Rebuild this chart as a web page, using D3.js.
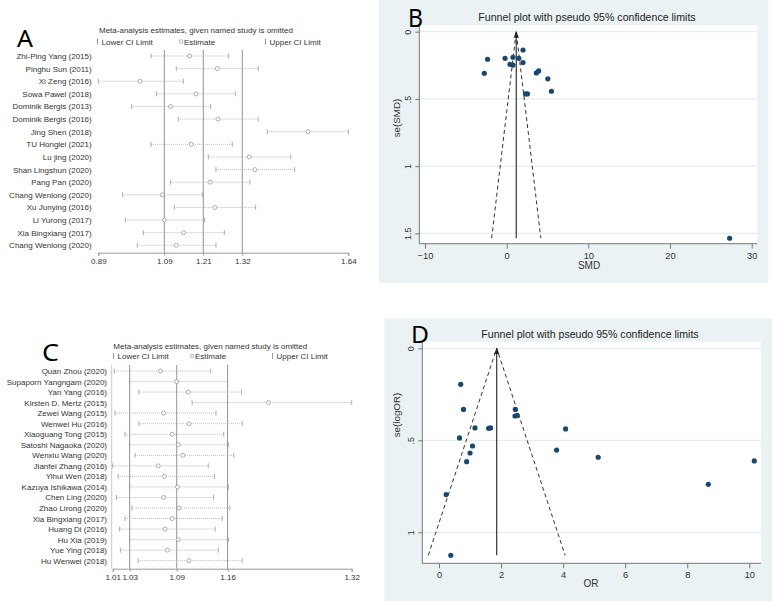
<!DOCTYPE html>
<html><head><meta charset="utf-8">
<script src="https://cdn.jsdelivr.net/npm/d3@7"></script>
<style>
body{margin:0;background:#fff}
svg{display:block}
text{font-family:"Liberation Sans",Arial,sans-serif}
</style>
</head><body>
<svg id="c" width="772" height="601"></svg>
<script>
// ---------- Panel A data (influence analysis) ----------
const studiesA = ["Zhi-Ping Yang (2015)","Pinghu Sun (2011)","Xi Zeng (2016)","Sowa Pawel (2018)","Dominik Bergis (2013)","Dominik Bergis (2016)","Jing Shen (2018)","TU Honglei (2021)","Lu jing (2020)","Shan Lingshun (2020)","Pang Pan (2020)","Chang Wenlong (2020)","Xu Junying (2016)","Li Yurong (2017)","Xia Bingxiang (2017)","Chang Wenlong (2020)"];
const lowerA = [1.048,1.124,0.890,1.065,0.990,1.130,1.397,1.048,1.220,1.243,1.107,0.963,1.118,0.971,1.025,1.007];
const estA   = [1.164,1.247,1.015,1.183,1.107,1.249,1.519,1.169,1.343,1.360,1.225,1.082,1.240,1.088,1.146,1.124];
const upperA = [1.281,1.370,1.145,1.301,1.227,1.370,1.640,1.292,1.467,1.479,1.345,1.202,1.362,1.209,1.268,1.243];
const refA = [1.088,1.205,1.322];
const tickValsA = [0.89,1.088,1.205,1.322,1.64];
const tickLabelsA = ["0.89","1.09","1.21","1.32","1.64"];

// ---------- Panel C data ----------
const studiesC = ["Quan Zhou (2020)","Supaporn Yangngam (2020)","Yan Yang (2016)","Kirsten D. Mertz (2015)","Zewei Wang (2015)","Wenwei Hu (2016)","Xiaoguang Tong (2015)","Satoshi Nagaoka (2020)","Wenxiu Wang (2020)","Jianfei Zhang (2016)","Yihui Wen (2018)","Kazuya Ishikawa (2014)","Chen Ling (2020)","Zhao Lirong (2020)","Xia Bingxiang (2017)","Huang Di (2016)","Hu Xia (2019)","Yue Ying (2018)","Hu Wenwei (2018)"];
const lowerC = [1.012,1.032,1.044,1.113,1.013,1.044,1.026,1.032,1.039,1.010,1.017,1.032,1.015,1.035,1.026,1.019,1.032,1.020,1.043];
const estC   = [1.072,1.093,1.108,1.212,1.076,1.109,1.087,1.095,1.101,1.069,1.077,1.094,1.076,1.096,1.087,1.078,1.095,1.081,1.109];
const upperC = [1.137,1.159,1.177,1.320,1.144,1.178,1.154,1.160,1.167,1.134,1.142,1.160,1.141,1.162,1.152,1.143,1.160,1.147,1.178];
const refC = [1.032,1.093,1.159];
const tickValsC = [1.01,1.032,1.093,1.159,1.32];
const tickLabelsC = ["1.01","1.03","1.09","1.16","1.32"];

// ---------- Panel B data (funnel, SMD) ----------
const smdB = [-2.74,-2.34,-0.20,0.40,0.77,0.77,1.49,2.00,2.00,3.63,3.91,5.04,5.48,2.30,2.54,27.3];
const seB  = [0.309,0.205,0.198,0.243,0.248,0.190,0.198,0.136,0.230,0.307,0.292,0.351,0.443,0.463,0.463,1.537];
const pooledB = 1.17;
const xTicksB = [-10,0,10,20,30];
const yTicksB = [0,0.5,1,1.5];
const yTickLabelsB = ["0",".5","1","1.5"];

// ---------- Panel D data (funnel, OR) ----------
const orD = [0.70,0.79,0.66,1.16,1.08,1.00,0.89,1.60,1.66,2.46,2.45,2.52,4.08,3.79,5.13,8.68,10.16,0.23,0.38];
const seD = [0.196,0.332,0.487,0.433,0.531,0.569,0.616,0.435,0.433,0.332,0.368,0.365,0.438,0.553,0.592,0.739,0.612,0.795,1.125];
const pooledD = 1.86;
const xTicksD = [0,2,4,6,8,10];
const yTicksD = [0,0.5,1];
const yTickLabelsD = ["0",".5","1"];

const svg = d3.select("#c");
svg.append("rect").attr("width",772).attr("height",601).attr("fill","#fff");

const defs = svg.append("defs");
defs.append("marker").attr("id","arr").attr("viewBox","0 0 10 10").attr("refX",9).attr("refY",5)
  .attr("markerWidth",6).attr("markerHeight",6).attr("orient","auto-start-reverse")
  .append("path").attr("d","M0,1 L10,5 L0,9 Z").attr("fill","#222");

function letter(g, t, x, y, w, fs){
  g.append("text").attr("x",x).attr("y",y).attr("font-size",fs||23)
   .attr("textLength",w).attr("lengthAdjust","spacingAndGlyphs")
   .style("font-family","'Noto Sans',sans-serif").attr("fill","#000").text(t);
}

function forest(c){
  const g = svg.append("g");
  const x = d3.scaleLinear().domain(c.domain).range(c.range);
  const y = d3.scalePoint().domain(d3.range(c.names.length)).range([c.row0,c.rowN]);
  letter(g,c.letter,c.lx,c.ly,c.lw);
  g.append("text").attr("x",c.titleX).attr("y",c.titleY).attr("font-size",8).attr("fill","#333")
   .text("Meta-analysis estimates, given named study is omitted");
  const lg = g.append("g").attr("fill","#333").attr("font-size",8);
  lg.append("line").attr("x1",c.legX[0]+1).attr("x2",c.legX[0]+1).attr("y1",c.legY-6).attr("y2",c.legY).attr("stroke","#999");
  lg.append("text").attr("x",c.legX[0]+5).attr("y",c.legY).text("Lower CI Limit");
  lg.append("circle").attr("cx",c.legX[1]+2).attr("cy",c.legY-3).attr("r",1.8).attr("fill","none").attr("stroke","#999").attr("stroke-width",0.7);
  lg.append("text").attr("x",c.legX[1]+5).attr("y",c.legY).text("Estimate");
  lg.append("line").attr("x1",c.legX[2]+1).attr("x2",c.legX[2]+1).attr("y1",c.legY-6).attr("y2",c.legY).attr("stroke","#999");
  lg.append("text").attr("x",c.legX[2]+5).attr("y",c.legY).text("Upper CI Limit");
  if(c.leftLine) g.append("line").attr("x1",c.range[0]-1).attr("x2",c.range[0]-1).attr("y1",c.top).attr("y2",c.axisY).attr("stroke","#bbb").attr("stroke-width",0.8);
  g.selectAll(".ref").data(c.refs).join("line")
   .attr("x1",d=>x(d)).attr("x2",d=>x(d)).attr("y1",c.top).attr("y2",c.axisY)
   .attr("stroke","#888").attr("stroke-width",0.9);
  const rows = g.selectAll(".row").data(c.names.map((n,i)=>({n,i,lo:c.lower[i],es:c.est[i],up:c.upper[i]}))).join("g");
  rows.append("text").attr("x",c.labelX).attr("y",d=>y(d.i)+3).attr("text-anchor","end")
    .attr("font-size",8).attr("fill","#333").text(d=>d.n);
  rows.append("line").attr("x1",d=>x(d.lo)).attr("x2",d=>x(d.up)).attr("y1",d=>y(d.i)).attr("y2",d=>y(d.i))
    .attr("stroke","#aaa").attr("stroke-width",0.8).attr("stroke-dasharray","1,1");
  rows.append("line").attr("x1",d=>x(d.lo)).attr("x2",d=>x(d.lo)).attr("y1",d=>y(d.i)-2.5).attr("y2",d=>y(d.i)+2.5).attr("stroke","#999").attr("stroke-width",0.8);
  rows.append("line").attr("x1",d=>x(d.up)).attr("x2",d=>x(d.up)).attr("y1",d=>y(d.i)-2.5).attr("y2",d=>y(d.i)+2.5).attr("stroke","#999").attr("stroke-width",0.8);
  rows.append("circle").attr("cx",d=>x(d.es)).attr("cy",d=>y(d.i)).attr("r",2).attr("fill","#fff").attr("stroke","#999").attr("stroke-width",0.8);
  const ax = d3.axisBottom(x).tickValues(c.ticks).tickFormat((d,i)=>c.tickLabels[i]).tickSize(3).tickPadding(3);
  const ag = g.append("g").attr("transform",`translate(0,${c.axisY})`).call(ax);
  ag.select(".domain").attr("stroke","#999");
  ag.selectAll(".tick line").attr("stroke","#999");
  ag.selectAll(".tick text").attr("font-size",8).attr("fill","#333").style("font-family","'Liberation Sans',Arial,sans-serif");
}

function funnel(c){
  const g = svg.append("g");
  g.append("rect").attr("x",c.bg[0]).attr("y",c.bg[1]).attr("width",c.bg[2]-c.bg[0]).attr("height",c.bg[3]-c.bg[1]).attr("fill","#eaf2f3");
  g.append("rect").attr("x",c.plot[0]).attr("y",c.plot[1]).attr("width",c.plot[2]-c.plot[0]).attr("height",c.plot[3]-c.plot[1]).attr("fill","#fff");
  const x = d3.scaleLinear().domain(c.xdom).range(c.xr);
  const y = d3.scaleLinear().domain(c.ydom).range(c.yr);
  g.selectAll(".gr").data(c.yTicks).join("line").attr("x1",c.plot[0]).attr("x2",c.plot[2])
   .attr("y1",d=>y(d)).attr("y2",d=>y(d)).attr("stroke","#e3eef0").attr("stroke-width",1.2);
  const ay = d3.axisLeft(y).tickValues(c.yTicks).tickFormat((d,i)=>c.yTickLabels[i]).tickSize(4).tickPadding(3);
  const yg = g.append("g").attr("transform",`translate(${c.plot[0]},0)`).call(ay);
  yg.select(".domain").attr("d",`M0,${c.plot[1]}V${c.plot[3]}`).attr("stroke","#777");
  yg.selectAll(".tick line").attr("stroke","#777");
  yg.selectAll(".tick text").attr("font-size",9).attr("fill","#333").style("font-family","'Liberation Sans',Arial,sans-serif")
    .attr("text-anchor","middle").attr("x",0).attr("dy",0).attr("y",0)
    .attr("transform","translate(-8.5,0) rotate(-90)");
  const axb = d3.axisBottom(x).tickValues(c.xTicks).tickSize(5).tickPadding(2);
  const xg = g.append("g").attr("transform",`translate(0,${c.plot[3]})`).call(axb);
  xg.select(".domain").attr("d",`M${c.plot[0]},0H${c.plot[2]}`).attr("stroke","#777");
  xg.selectAll(".tick line").attr("stroke","#777");
  xg.selectAll(".tick text").attr("font-size",9.3).attr("fill","#333").style("font-family","'Liberation Sans',Arial,sans-serif")
    .attr("dy",0).attr("y",c.tickOff);
  g.append("text").attr("x",c.titleX).attr("y",c.titleY).attr("text-anchor","middle").attr("font-size",10.6).attr("fill","#222")
   .text("Funnel plot with pseudo 95% confidence limits");
  g.append("text").attr("x",c.xTitleX).attr("y",c.xTitleY).attr("text-anchor","middle").attr("font-size",10).attr("fill","#333").text(c.xTitle);
  g.append("text").attr("transform",`translate(${c.yTitleX},${c.yTitleY}) rotate(-90)`).attr("text-anchor","middle").attr("font-size",9.8).attr("fill","#333").text(c.yTitle);
  letter(g,c.letter,c.lx,c.ly,c.lw,c.lfs);
  const maxSe = d3.max(c.se);
  const half = 1.96*maxSe;
  g.append("path").attr("d",`M${x(c.pooled-half)},${y(maxSe)}L${x(c.pooled)},${y(0)}L${x(c.pooled+half)},${y(maxSe)}`)
   .attr("fill","none").attr("stroke","#333").attr("stroke-width",1).attr("stroke-dasharray","4,3");
  g.append("line").attr("x1",x(c.pooled)).attr("x2",x(c.pooled)).attr("y1",y(maxSe)).attr("y2",y(0))
   .attr("stroke","#222").attr("stroke-width",1.1).attr("marker-end","url(#arr)");
  g.selectAll(".pt").data(c.est.map((e,i)=>[e,c.se[i]])).join("circle")
   .attr("cx",d=>x(d[0])).attr("cy",d=>y(d[1])).attr("r",2.6).attr("fill","#1a476f");
}

forest({names:studiesA,lower:lowerA,est:estA,upper:upperA,refs:refA,ticks:tickValsA,tickLabels:tickLabelsA,
  domain:[0.89,1.64],range:[98.3,348.3],row0:56,rowN:245.3,top:50,axisY:252.7,labelX:91.7,
  letter:"A",lx:17,ly:47,lw:16,titleX:99,titleY:33,legY:44.5,legX:[96.5,179,264.5],leftLine:false});

forest({names:studiesC,lower:lowerC,est:estC,upper:upperC,refs:refC,ticks:tickValsC,tickLabels:tickLabelsC,
  domain:[1.01,1.32],range:[112.7,351.7],row0:371,rowN:560.7,top:365,axisY:568.7,labelX:107,
  letter:"C",lx:42,ly:361,lw:17,titleX:113.3,titleY:348.5,legY:359,legX:[112.5,190,271.5],leftLine:true});

funnel({bg:[379,0,768.3,282.7],plot:[419.3,25.3,757.3,243.7],xdom:[-10,30],xr:[425,751.7],ydom:[0,1.5],yr:[31.7,233.3],
  xTicks:xTicksB,yTicks:yTicksB,yTickLabels:yTickLabelsB,titleX:587,titleY:21,xTitle:"SMD",xTitleX:589,xTitleY:269,tickOff:15.5,
  yTitle:"se(SMD)",yTitleX:400,yTitleY:118,letter:"B",lx:408,ly:27,lw:15,lfs:25,est:smdB,se:seB,pooled:pooledB});

funnel({bg:[384.3,318.3,772,601],plot:[422.3,341.7,761,563.3],xdom:[0,10],xr:[439,749.3],ydom:[0,1],yr:[348.3,532.3],
  xTicks:xTicksD,yTicks:yTicksD,yTickLabels:yTickLabelsD,titleX:590,titleY:338,xTitle:"OR",xTitleX:591,xTitleY:587,tickOff:14.7,
  yTitle:"se(logOR)",yTitleX:400,yTitleY:415,letter:"D",lx:411,ly:343,lw:18,est:orD,se:seD,pooled:pooledD});
</script>
</body></html>
